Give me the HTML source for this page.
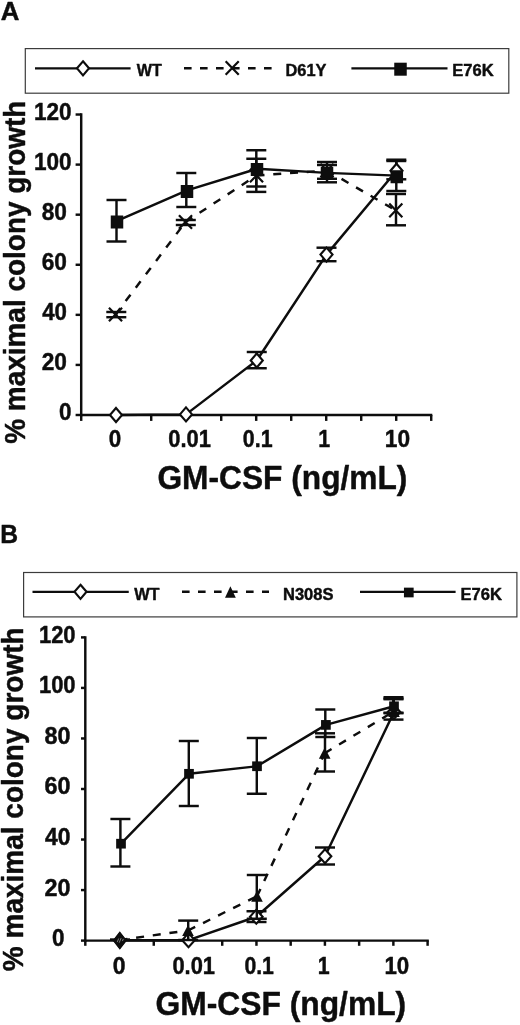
<!DOCTYPE html>
<html lang="en"><head><meta charset="utf-8"><title>GM-CSF colony growth</title>
<style>html,body{margin:0;padding:0;background:#fff}svg{display:block}text{font-family:'Liberation Sans', Arial, Helvetica, sans-serif;font-weight:bold;fill:#0d0d0d;stroke:#0d0d0d;stroke-width:0.45px;stroke-linejoin:round}</style></head><body>
<svg width="520" height="1025" viewBox="0 0 520 1025">
<rect width="520" height="1025" fill="#fff"/>
<g id="panelA">
<text transform="translate(0.7 19.52) scale(1.0154 1)" font-size="25.43">A</text>
<rect x="25.3" y="48.6" width="483.5" height="44.6" fill="#fff" stroke="#3c3c3c" stroke-width="1.2"/>
<line x1="35" y1="68.3" x2="130.6" y2="68.3" stroke="#0d0d0d" stroke-width="2.25"/>
<polygon points="83,61.26 89.04,68.3 83,75.34 76.96,68.3" fill="#fff" stroke="#0d0d0d" stroke-width="2.1"/>
<text transform="translate(136.72 76.28) scale(0.9274 1)" font-size="17.36">WT</text>
<line x1="184" y1="68.3" x2="271.6" y2="68.3" stroke="#0d0d0d" stroke-width="2.45" stroke-dasharray="7.6 8.4"/>
<path d="M225.65,61.2L238.75,74.8M238.75,61.2L225.65,74.8" stroke="#0d0d0d" stroke-width="2.2" fill="none"/>
<text transform="translate(285.49 76.2) scale(0.9493 1)" font-size="17.25">D61Y</text>
<line x1="351.4" y1="68.3" x2="447.5" y2="68.3" stroke="#0d0d0d" stroke-width="2.25"/>
<rect x="394.25" y="62.7" width="12.5" height="13" fill="#0d0d0d"/>
<text transform="translate(452.33 76.2) scale(0.9588 1)" font-size="17.25">E76K</text>
<line x1="81.2" y1="113.29" x2="81.2" y2="416.23" stroke="#0d0d0d" stroke-width="2.45"/>
<line x1="79.98" y1="415" x2="432.3" y2="415" stroke="#0d0d0d" stroke-width="2.45"/>
<line x1="75.6" y1="415" x2="81.2" y2="415" stroke="#0d0d0d" stroke-width="2.45"/>
<text transform="translate(59.08 420.44) scale(0.9481 1)" font-size="23.73">0</text>
<line x1="75.6" y1="364.92" x2="81.2" y2="364.92" stroke="#0d0d0d" stroke-width="2.45"/>
<text transform="translate(41.74 370.36) scale(0.9562 1)" font-size="23.73">20</text>
<line x1="75.6" y1="314.84" x2="81.2" y2="314.84" stroke="#0d0d0d" stroke-width="2.45"/>
<text transform="translate(42.2 320.28) scale(0.9381 1)" font-size="23.73">40</text>
<line x1="75.6" y1="264.76" x2="81.2" y2="264.76" stroke="#0d0d0d" stroke-width="2.45"/>
<text transform="translate(41.74 270.2) scale(0.9562 1)" font-size="23.73">60</text>
<line x1="75.6" y1="214.68" x2="81.2" y2="214.68" stroke="#0d0d0d" stroke-width="2.45"/>
<text transform="translate(41.74 220.12) scale(0.9562 1)" font-size="23.73">80</text>
<line x1="75.6" y1="164.6" x2="81.2" y2="164.6" stroke="#0d0d0d" stroke-width="2.45"/>
<text transform="translate(33.97 170.04) scale(0.9514 1)" font-size="23.73">100</text>
<line x1="75.6" y1="114.52" x2="81.2" y2="114.52" stroke="#0d0d0d" stroke-width="2.45"/>
<text transform="translate(33.97 119.96) scale(0.9514 1)" font-size="23.73">120</text>
<line x1="116.2" y1="415" x2="116.2" y2="420.9" stroke="#0d0d0d" stroke-width="2.45"/>
<line x1="151.2" y1="415" x2="151.2" y2="420.9" stroke="#0d0d0d" stroke-width="2.45"/>
<line x1="186.2" y1="415" x2="186.2" y2="420.9" stroke="#0d0d0d" stroke-width="2.45"/>
<line x1="221.2" y1="415" x2="221.2" y2="420.9" stroke="#0d0d0d" stroke-width="2.45"/>
<line x1="256.2" y1="415" x2="256.2" y2="420.9" stroke="#0d0d0d" stroke-width="2.45"/>
<line x1="291.2" y1="415" x2="291.2" y2="420.9" stroke="#0d0d0d" stroke-width="2.45"/>
<line x1="326.2" y1="415" x2="326.2" y2="420.9" stroke="#0d0d0d" stroke-width="2.45"/>
<line x1="361.2" y1="415" x2="361.2" y2="420.9" stroke="#0d0d0d" stroke-width="2.45"/>
<line x1="396.2" y1="415" x2="396.2" y2="420.9" stroke="#0d0d0d" stroke-width="2.45"/>
<line x1="431.2" y1="415" x2="431.2" y2="420.9" stroke="#0d0d0d" stroke-width="2.45"/>
<line x1="81.2" y1="415" x2="81.2" y2="420.9" stroke="#0d0d0d" stroke-width="2.45"/>
<text transform="translate(108.73 447.13) scale(0.9326 1)" font-size="24.01">0</text>
<text transform="translate(168.35 447.13) scale(0.9115 1)" font-size="24.01">0.01</text>
<text transform="translate(242.87 447.13) scale(0.8908 1)" font-size="24.01">0.1</text>
<text transform="translate(318.34 447.38) scale(0.8654 1)" font-size="24.71">1</text>
<text transform="translate(384.86 447.13) scale(0.9462 1)" font-size="24.01">10</text>
<text transform="translate(157.46 488.92) scale(0.9372 1)" font-size="33.83">GM-CSF (ng/mL)</text>
<text transform="translate(24.54 443.83) rotate(-90) scale(0.9576 1)" font-size="29.2">% maximal colony growth</text>
<line x1="256.75" y1="352" x2="256.75" y2="368.25" stroke="#0d0d0d" stroke-width="2.45"/>
<line x1="246.75" y1="352" x2="266.75" y2="352" stroke="#0d0d0d" stroke-width="2.45"/>
<line x1="246.75" y1="368.25" x2="266.75" y2="368.25" stroke="#0d0d0d" stroke-width="2.45"/>
<line x1="326.5" y1="247.7" x2="326.5" y2="261.2" stroke="#0d0d0d" stroke-width="2.45"/>
<line x1="316.5" y1="247.7" x2="336.5" y2="247.7" stroke="#0d0d0d" stroke-width="2.45"/>
<line x1="316.5" y1="261.2" x2="336.5" y2="261.2" stroke="#0d0d0d" stroke-width="2.45"/>
<line x1="396.3" y1="161" x2="396.3" y2="179.3" stroke="#0d0d0d" stroke-width="2.45"/>
<line x1="386.3" y1="161" x2="406.3" y2="161" stroke="#0d0d0d" stroke-width="2.45"/>
<line x1="386.3" y1="179.3" x2="406.3" y2="179.3" stroke="#0d0d0d" stroke-width="2.45"/>
<line x1="116.5" y1="200" x2="116.5" y2="241.5" stroke="#0d0d0d" stroke-width="2.45"/>
<line x1="106.5" y1="200" x2="126.5" y2="200" stroke="#0d0d0d" stroke-width="2.45"/>
<line x1="106.5" y1="241.5" x2="126.5" y2="241.5" stroke="#0d0d0d" stroke-width="2.45"/>
<line x1="186.3" y1="173" x2="186.3" y2="207" stroke="#0d0d0d" stroke-width="2.45"/>
<line x1="176.3" y1="173" x2="196.3" y2="173" stroke="#0d0d0d" stroke-width="2.45"/>
<line x1="176.3" y1="207" x2="196.3" y2="207" stroke="#0d0d0d" stroke-width="2.45"/>
<line x1="256.3" y1="150.25" x2="256.3" y2="186.5" stroke="#0d0d0d" stroke-width="2.45"/>
<line x1="246.3" y1="150.25" x2="266.3" y2="150.25" stroke="#0d0d0d" stroke-width="2.45"/>
<line x1="246.3" y1="186.5" x2="266.3" y2="186.5" stroke="#0d0d0d" stroke-width="2.45"/>
<line x1="327" y1="165" x2="327" y2="182.3" stroke="#0d0d0d" stroke-width="2.45"/>
<line x1="317" y1="165" x2="337" y2="165" stroke="#0d0d0d" stroke-width="2.45"/>
<line x1="317" y1="182.3" x2="337" y2="182.3" stroke="#0d0d0d" stroke-width="2.45"/>
<line x1="396.3" y1="159.7" x2="396.3" y2="191" stroke="#0d0d0d" stroke-width="2.45"/>
<line x1="386.3" y1="159.7" x2="406.3" y2="159.7" stroke="#0d0d0d" stroke-width="2.45"/>
<line x1="386.3" y1="191" x2="406.3" y2="191" stroke="#0d0d0d" stroke-width="2.45"/>
<line x1="116.3" y1="312" x2="116.3" y2="317.2" stroke="#0d0d0d" stroke-width="2.45"/>
<line x1="106.3" y1="312" x2="126.3" y2="312" stroke="#0d0d0d" stroke-width="2.45"/>
<line x1="106.3" y1="317.2" x2="126.3" y2="317.2" stroke="#0d0d0d" stroke-width="2.45"/>
<line x1="185.8" y1="220" x2="185.8" y2="225" stroke="#0d0d0d" stroke-width="2.45"/>
<line x1="175.8" y1="220" x2="195.8" y2="220" stroke="#0d0d0d" stroke-width="2.45"/>
<line x1="175.8" y1="225" x2="195.8" y2="225" stroke="#0d0d0d" stroke-width="2.45"/>
<line x1="256.3" y1="158.75" x2="256.3" y2="191.9" stroke="#0d0d0d" stroke-width="2.45"/>
<line x1="246.3" y1="158.75" x2="266.3" y2="158.75" stroke="#0d0d0d" stroke-width="2.45"/>
<line x1="246.3" y1="191.9" x2="266.3" y2="191.9" stroke="#0d0d0d" stroke-width="2.45"/>
<line x1="327" y1="162" x2="327" y2="178.8" stroke="#0d0d0d" stroke-width="2.45"/>
<line x1="317" y1="162" x2="337" y2="162" stroke="#0d0d0d" stroke-width="2.45"/>
<line x1="317" y1="178.8" x2="337" y2="178.8" stroke="#0d0d0d" stroke-width="2.45"/>
<line x1="396" y1="194" x2="396" y2="225.3" stroke="#0d0d0d" stroke-width="2.45"/>
<line x1="386" y1="194" x2="406" y2="194" stroke="#0d0d0d" stroke-width="2.45"/>
<line x1="386" y1="225.3" x2="406" y2="225.3" stroke="#0d0d0d" stroke-width="2.45"/>
<line x1="115.5" y1="314.5" x2="185.5" y2="222" stroke="#0d0d0d" stroke-width="2.45" stroke-dasharray="8 8.8"/>
<line x1="185.5" y1="222" x2="256.5" y2="175.5" stroke="#0d0d0d" stroke-width="2.45" stroke-dasharray="8 8.8"/>
<line x1="256.5" y1="175.5" x2="327" y2="170.5" stroke="#0d0d0d" stroke-width="2.45" stroke-dasharray="8 8.8"/>
<line x1="327" y1="170.5" x2="395.8" y2="210.4" stroke="#0d0d0d" stroke-width="2.45" stroke-dasharray="8 8.8"/>
<polyline points="116,415 186,414.4 256.75,360.5 326.5,254.6 396.5,170.75" fill="none" stroke="#0d0d0d" stroke-width="2.45" stroke-linejoin="round"/>
<polyline points="117,220.9 187,190.4 257,168.8 327,172.9 396.8,175.6" fill="none" stroke="#0d0d0d" stroke-width="2.45" stroke-linejoin="round"/>
<path d="M108.95,307.7L122.05,321.3M122.05,307.7L108.95,321.3" stroke="#0d0d0d" stroke-width="2.2" fill="none"/>
<path d="M178.95,215.2L192.05,228.8M192.05,215.2L178.95,228.8" stroke="#0d0d0d" stroke-width="2.2" fill="none"/>
<path d="M249.95,168.7L263.05,182.3M263.05,168.7L249.95,182.3" stroke="#0d0d0d" stroke-width="2.2" fill="none"/>
<path d="M320.45,163.7L333.55,177.3M333.55,163.7L320.45,177.3" stroke="#0d0d0d" stroke-width="2.2" fill="none"/>
<path d="M389.25,203.6L402.35,217.2M402.35,203.6L389.25,217.2" stroke="#0d0d0d" stroke-width="2.2" fill="none"/>
<polygon points="116,407.96 122.04,415 116,422.04 109.96,415" fill="#fff" stroke="#0d0d0d" stroke-width="2.1"/>
<polygon points="186,407.36 192.04,414.4 186,421.44 179.96,414.4" fill="#fff" stroke="#0d0d0d" stroke-width="2.1"/>
<polygon points="256.75,353.46 262.79,360.5 256.75,367.54 250.71,360.5" fill="#fff" stroke="#0d0d0d" stroke-width="2.1"/>
<polygon points="326.5,247.56 332.54,254.6 326.5,261.64 320.46,254.6" fill="#fff" stroke="#0d0d0d" stroke-width="2.1"/>
<polygon points="396.5,163.71 402.54,170.75 396.5,177.79 390.46,170.75" fill="#fff" stroke="#0d0d0d" stroke-width="2.1"/>
<rect x="110.75" y="215.5" width="12.5" height="13" fill="#0d0d0d"/>
<rect x="180.75" y="185" width="12.5" height="13" fill="#0d0d0d"/>
<rect x="250.75" y="163" width="12.5" height="13" fill="#0d0d0d"/>
<rect x="320.75" y="167" width="12.5" height="13" fill="#0d0d0d"/>
<rect x="390.55" y="170.25" width="12.5" height="13" fill="#0d0d0d"/>
</g>
<g id="panelB">
<text transform="translate(0.24 543.27) scale(0.9566 1)" font-size="25.8">B</text>
<rect x="23.6" y="572.5" width="493.3" height="44.4" fill="#fff" stroke="#3c3c3c" stroke-width="1.2"/>
<line x1="32.5" y1="591.8" x2="128.75" y2="591.8" stroke="#0d0d0d" stroke-width="2.25"/>
<polygon points="80.5,584.76 86.54,591.8 80.5,598.84 74.46,591.8" fill="#fff" stroke="#0d0d0d" stroke-width="2.1"/>
<text transform="translate(134.22 599.88) scale(0.9404 1)" font-size="17.36">WT</text>
<line x1="182" y1="591.8" x2="269" y2="591.8" stroke="#0d0d0d" stroke-width="2.45" stroke-dasharray="7.6 8.4"/>
<polygon points="230.4,586.35 235.8,597.65 225,597.65" fill="#0d0d0d"/>
<text transform="translate(282.98 599.8) scale(0.9497 1)" font-size="17.39">N308S</text>
<line x1="360" y1="591.8" x2="455.6" y2="591.8" stroke="#0d0d0d" stroke-width="2.25"/>
<rect x="403.95" y="587.65" width="9.7" height="9.7" fill="#0d0d0d"/>
<text transform="translate(460.48 599.8) scale(0.9511 1)" font-size="17.39">E76K</text>
<line x1="85.3" y1="636.17" x2="85.3" y2="941.83" stroke="#0d0d0d" stroke-width="2.45"/>
<line x1="84.08" y1="940.6" x2="428.8" y2="940.6" stroke="#0d0d0d" stroke-width="2.45"/>
<line x1="81" y1="940.6" x2="85.3" y2="940.6" stroke="#0d0d0d" stroke-width="2.45"/>
<text transform="translate(52.08 946.04) scale(0.9481 1)" font-size="23.73">0</text>
<line x1="81" y1="890.07" x2="85.3" y2="890.07" stroke="#0d0d0d" stroke-width="2.45"/>
<text transform="translate(44.52 895.5) scale(0.9845 1)" font-size="23.73">20</text>
<line x1="81" y1="839.53" x2="85.3" y2="839.53" stroke="#0d0d0d" stroke-width="2.45"/>
<text transform="translate(45 844.97) scale(0.9660 1)" font-size="23.73">40</text>
<line x1="81" y1="789" x2="85.3" y2="789" stroke="#0d0d0d" stroke-width="2.45"/>
<text transform="translate(44.52 794.44) scale(0.9845 1)" font-size="23.73">60</text>
<line x1="81" y1="738.46" x2="85.3" y2="738.46" stroke="#0d0d0d" stroke-width="2.45"/>
<text transform="translate(44.52 743.9) scale(0.9845 1)" font-size="23.73">80</text>
<line x1="81" y1="687.93" x2="85.3" y2="687.93" stroke="#0d0d0d" stroke-width="2.45"/>
<text transform="translate(38.9 693.37) scale(0.9273 1)" font-size="23.73">100</text>
<line x1="81" y1="637.4" x2="85.3" y2="637.4" stroke="#0d0d0d" stroke-width="2.45"/>
<text transform="translate(38.9 642.83) scale(0.9273 1)" font-size="23.73">120</text>
<line x1="119.53" y1="940.6" x2="119.53" y2="945.8" stroke="#0d0d0d" stroke-width="2.45"/>
<line x1="153.76" y1="940.6" x2="153.76" y2="945.8" stroke="#0d0d0d" stroke-width="2.45"/>
<line x1="187.99" y1="940.6" x2="187.99" y2="945.8" stroke="#0d0d0d" stroke-width="2.45"/>
<line x1="222.22" y1="940.6" x2="222.22" y2="945.8" stroke="#0d0d0d" stroke-width="2.45"/>
<line x1="256.45" y1="940.6" x2="256.45" y2="945.8" stroke="#0d0d0d" stroke-width="2.45"/>
<line x1="290.68" y1="940.6" x2="290.68" y2="945.8" stroke="#0d0d0d" stroke-width="2.45"/>
<line x1="324.91" y1="940.6" x2="324.91" y2="945.8" stroke="#0d0d0d" stroke-width="2.45"/>
<line x1="359.14" y1="940.6" x2="359.14" y2="945.8" stroke="#0d0d0d" stroke-width="2.45"/>
<line x1="393.37" y1="940.6" x2="393.37" y2="945.8" stroke="#0d0d0d" stroke-width="2.45"/>
<line x1="427.6" y1="940.6" x2="427.6" y2="945.8" stroke="#0d0d0d" stroke-width="2.45"/>
<line x1="85.3" y1="940.6" x2="85.3" y2="945.8" stroke="#0d0d0d" stroke-width="2.45"/>
<text transform="translate(112.8 973.53) scale(0.9586 1)" font-size="24.01">0</text>
<text transform="translate(172.45 973.53) scale(0.9115 1)" font-size="24.01">0.01</text>
<text transform="translate(244.38 973.53) scale(0.8845 1)" font-size="24.01">0.1</text>
<text transform="translate(317.74 973.77) scale(0.8654 1)" font-size="24.71">1</text>
<text transform="translate(384.39 973.53) scale(0.9297 1)" font-size="24.01">10</text>
<text transform="translate(155.45 1014.59) scale(0.9430 1)" font-size="33.72">GM-CSF (ng/mL)</text>
<text transform="translate(22.58 971.13) rotate(-90) scale(0.9640 1)" font-size="29.04">% maximal colony growth</text>
<polyline points="119.5,940.3 188.5,940.2 256.3,916.75 325,856.25 394,712" fill="none" stroke="#0d0d0d" stroke-width="2.45" stroke-linejoin="round"/>
<line x1="256.5" y1="911.25" x2="256.5" y2="922" stroke="#0d0d0d" stroke-width="2.45"/>
<line x1="246.5" y1="911.25" x2="266.5" y2="911.25" stroke="#0d0d0d" stroke-width="2.45"/>
<line x1="246.5" y1="922" x2="266.5" y2="922" stroke="#0d0d0d" stroke-width="2.45"/>
<line x1="325" y1="847.5" x2="325" y2="864.5" stroke="#0d0d0d" stroke-width="2.45"/>
<line x1="315" y1="847.5" x2="335" y2="847.5" stroke="#0d0d0d" stroke-width="2.45"/>
<line x1="315" y1="864.5" x2="335" y2="864.5" stroke="#0d0d0d" stroke-width="2.45"/>
<line x1="393.5" y1="699.2" x2="393.5" y2="719.6" stroke="#0d0d0d" stroke-width="2.45"/>
<line x1="383.5" y1="699.2" x2="403.5" y2="699.2" stroke="#0d0d0d" stroke-width="2.45"/>
<line x1="383.5" y1="719.6" x2="403.5" y2="719.6" stroke="#0d0d0d" stroke-width="2.45"/>
<polygon points="119.8,933.08 125.52,940.5 119.8,947.92 114.08,940.5" fill="#fff" stroke="#0d0d0d" stroke-width="2.3"/>
<polygon points="188.5,933.16 194.84,940.2 188.5,947.24 182.16,940.2" fill="#fff" stroke="#0d0d0d" stroke-width="2.1"/>
<polygon points="256.3,909.71 262.64,916.75 256.3,923.79 249.96,916.75" fill="#fff" stroke="#0d0d0d" stroke-width="2.1"/>
<polygon points="325,849.21 331.34,856.25 325,863.29 318.66,856.25" fill="#fff" stroke="#0d0d0d" stroke-width="2.1"/>
<polygon points="394,704.96 400.34,712 394,719.04 387.66,712" fill="#fff" stroke="#0d0d0d" stroke-width="2.1"/>
<line x1="119.5" y1="940" x2="188" y2="930.5" stroke="#0d0d0d" stroke-width="2.45" stroke-dasharray="8 8.8"/>
<line x1="188" y1="930.5" x2="257" y2="896.25" stroke="#0d0d0d" stroke-width="2.45" stroke-dasharray="8 8.8"/>
<line x1="257" y1="896.25" x2="324.7" y2="753.2" stroke="#0d0d0d" stroke-width="2.45" stroke-dasharray="8 8.8"/>
<line x1="324.7" y1="753.2" x2="394" y2="711.3" stroke="#0d0d0d" stroke-width="2.45" stroke-dasharray="8 8.8"/>
<line x1="110" y1="939.6" x2="130" y2="939.6" stroke="#0d0d0d" stroke-width="2.6"/>
<line x1="188.2" y1="920.6" x2="188.2" y2="940" stroke="#0d0d0d" stroke-width="2.45"/>
<line x1="178.2" y1="920.6" x2="198.2" y2="920.6" stroke="#0d0d0d" stroke-width="2.45"/>
<line x1="178.2" y1="940" x2="198.2" y2="940" stroke="#0d0d0d" stroke-width="2.45"/>
<line x1="256.8" y1="875" x2="256.8" y2="918.75" stroke="#0d0d0d" stroke-width="2.45"/>
<line x1="246.8" y1="875" x2="266.8" y2="875" stroke="#0d0d0d" stroke-width="2.45"/>
<line x1="246.8" y1="918.75" x2="266.8" y2="918.75" stroke="#0d0d0d" stroke-width="2.45"/>
<line x1="325" y1="733.3" x2="325" y2="771.5" stroke="#0d0d0d" stroke-width="2.45"/>
<line x1="315" y1="733.3" x2="335" y2="733.3" stroke="#0d0d0d" stroke-width="2.45"/>
<line x1="315" y1="771.5" x2="335" y2="771.5" stroke="#0d0d0d" stroke-width="2.45"/>
<line x1="393.5" y1="698.6" x2="393.5" y2="713.2" stroke="#0d0d0d" stroke-width="2.45"/>
<line x1="383.5" y1="698.6" x2="403.5" y2="698.6" stroke="#0d0d0d" stroke-width="2.45"/>
<line x1="383.5" y1="713.2" x2="403.5" y2="713.2" stroke="#0d0d0d" stroke-width="2.45"/>
<polygon points="119.8,932.1 126.5,940.5 119.8,948.9 113.1,940.5" fill="#0d0d0d"/>
<path d="M117.2,942.1l1.5,-3.6M119.2,942.7l1.9,-4.6M122.4,941.1l0.9,-2.2" stroke="#8a8a8a" stroke-width="0.9" fill="none"/>
<polygon points="188,924.9 193.8,936.1 182.2,936.1" fill="#0d0d0d"/>
<polygon points="257,890.65 262.8,901.85 251.2,901.85" fill="#0d0d0d"/>
<polygon points="324.7,747.6 330.5,758.8 318.9,758.8" fill="#0d0d0d"/>
<polygon points="394,705.7 399.8,716.9 388.2,716.9" fill="#0d0d0d"/>
<polyline points="121,843.7 189,773.8 257,766.25 325.9,724.9 394,706.3" fill="none" stroke="#0d0d0d" stroke-width="2.45" stroke-linejoin="round"/>
<line x1="120.4" y1="819" x2="120.4" y2="866.5" stroke="#0d0d0d" stroke-width="2.45"/>
<line x1="110.4" y1="819" x2="130.4" y2="819" stroke="#0d0d0d" stroke-width="2.45"/>
<line x1="110.4" y1="866.5" x2="130.4" y2="866.5" stroke="#0d0d0d" stroke-width="2.45"/>
<line x1="188.8" y1="741" x2="188.8" y2="806" stroke="#0d0d0d" stroke-width="2.45"/>
<line x1="178.8" y1="741" x2="198.8" y2="741" stroke="#0d0d0d" stroke-width="2.45"/>
<line x1="178.8" y1="806" x2="198.8" y2="806" stroke="#0d0d0d" stroke-width="2.45"/>
<line x1="256.8" y1="738" x2="256.8" y2="793.75" stroke="#0d0d0d" stroke-width="2.45"/>
<line x1="246.8" y1="738" x2="266.8" y2="738" stroke="#0d0d0d" stroke-width="2.45"/>
<line x1="246.8" y1="793.75" x2="266.8" y2="793.75" stroke="#0d0d0d" stroke-width="2.45"/>
<line x1="325.3" y1="709.5" x2="325.3" y2="737" stroke="#0d0d0d" stroke-width="2.45"/>
<line x1="315.3" y1="709.5" x2="335.3" y2="709.5" stroke="#0d0d0d" stroke-width="2.45"/>
<line x1="315.3" y1="737" x2="335.3" y2="737" stroke="#0d0d0d" stroke-width="2.45"/>
<line x1="393.5" y1="697.2" x2="393.5" y2="712.7" stroke="#0d0d0d" stroke-width="2.45"/>
<line x1="383.5" y1="697.2" x2="403.5" y2="697.2" stroke="#0d0d0d" stroke-width="2.45"/>
<line x1="383.5" y1="712.7" x2="403.5" y2="712.7" stroke="#0d0d0d" stroke-width="2.45"/>
<rect x="116.15" y="838.85" width="9.7" height="9.7" fill="#0d0d0d"/>
<rect x="184.15" y="768.95" width="9.7" height="9.7" fill="#0d0d0d"/>
<rect x="252.15" y="761.4" width="9.7" height="9.7" fill="#0d0d0d"/>
<rect x="321.05" y="720.05" width="9.7" height="9.7" fill="#0d0d0d"/>
<rect x="389.15" y="701.45" width="9.7" height="9.7" fill="#0d0d0d"/>
</g>
</svg></body></html>
